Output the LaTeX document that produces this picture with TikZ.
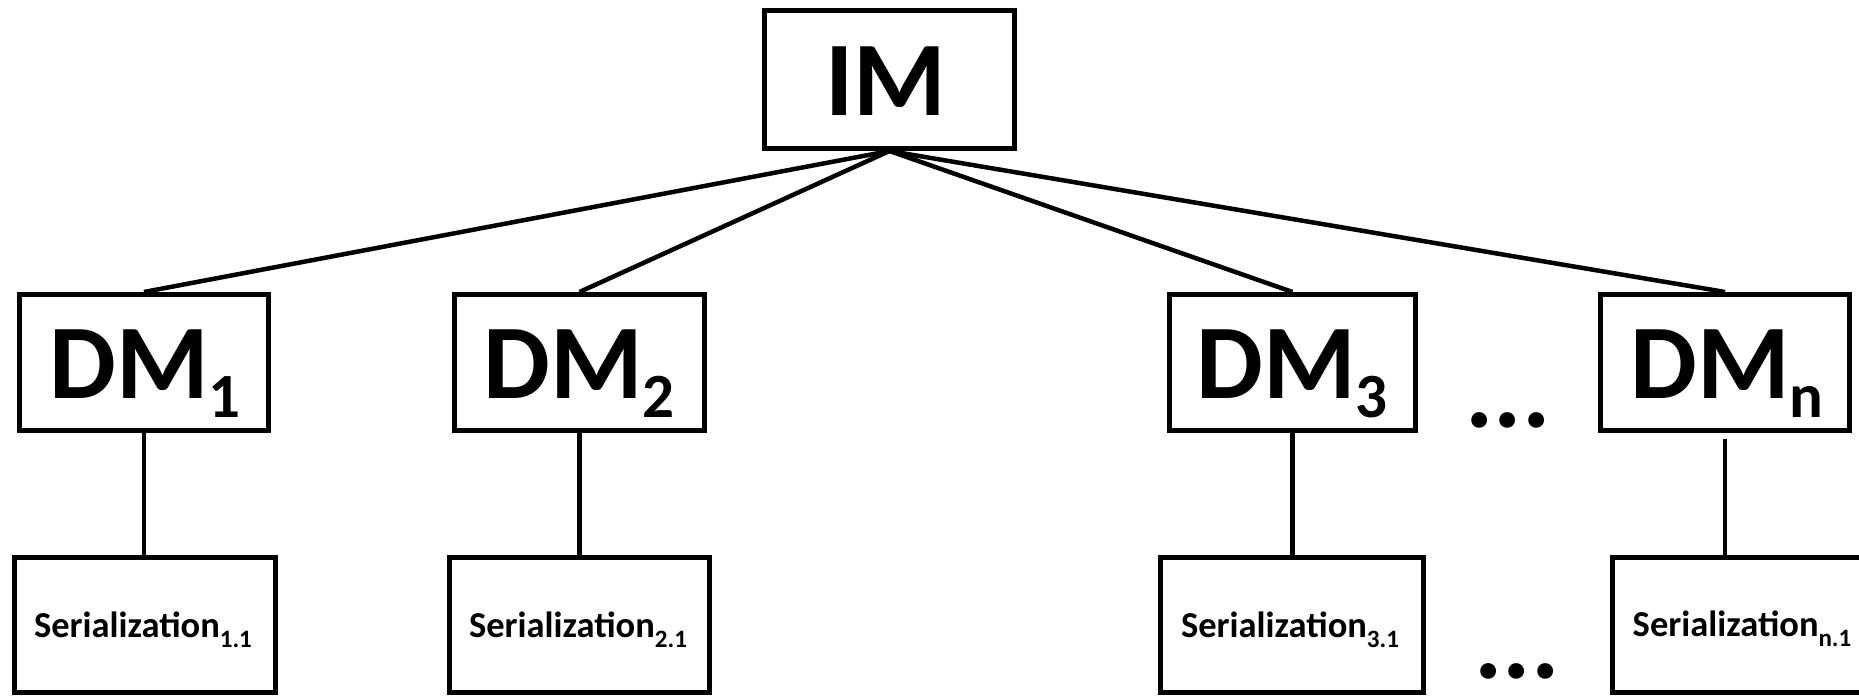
\documentclass[tikz,border=0pt]{standalone}
\usepackage{fontspec}
\setmainfont{Carlito}
\newcommand\bigsub[1]{\raisebox{-19pt}{\fontsize{63}{63}\selectfont #1}}
\newcommand\smallsub[1]{\raisebox{-10pt}{\fontsize{25}{25}\selectfont #1}}
\begin{document}
\begin{tikzpicture}[x=1pt,y=-1pt,
  boxnode/.style={draw, line width=5pt, inner sep=0pt, anchor=center},
  dmbox/.style={boxnode, minimum height=136pt},
  serbox/.style={boxnode, minimum height=135pt},
  bigtext/.style={anchor=base, inner sep=0pt, font=\fontsize{106}{106}\selectfont\bfseries},
  sertext/.style={anchor=base, inner sep=0pt, font=\fontsize{36.5}{36.5}\selectfont\bfseries},
  link/.style={line width=4.5pt}]
\useasboundingbox (0,0) rectangle (1859,696);
\clip (0,0) rectangle (1859,696);
% boxes
\node[boxnode, minimum width=250pt, minimum height=138pt] (IM) at (889.5,79.5) {};
\node[dmbox, minimum width=249pt] (DM1) at (144,362.5) {};
\node[dmbox, minimum width=250pt] (DM2) at (579.5,362.5) {};
\node[dmbox, minimum width=246pt] (DM3) at (1292.5,362.5) {};
\node[dmbox, minimum width=249pt] (DMn) at (1725,362.5) {};
\node[serbox, minimum width=261pt] (S1) at (145,625) {};
\node[serbox, minimum width=260pt] (S2) at (579.5,625) {};
\node[serbox, minimum width=263pt] (S3) at (1292,625) {};
\node[serbox, minimum width=261pt] (Sn) at (1743,625) {};
% texts
\node[bigtext] (tIM) at (886,115) {IM};
\node[bigtext] (tDM1) at (145,398) {DM\bigsub{1}};
\node[bigtext] (tDM2) at (579,398) {DM\bigsub{2}};
\node[bigtext] (tDM3) at (1292,398) {DM\bigsub{3}};
\node[bigtext] (tDMn) at (1727,398) {DM\bigsub{n}};
\node[sertext] (tS1) at (143,637) {Serialization\smallsub{1.1}};
\node[sertext] (tS2) at (578,637) {Serialization\smallsub{2.1}};
\node[sertext] (tS3) at (1290,637) {Serialization\smallsub{3.1}};
\node[sertext] (tSn) at (1742,636) {Serialization\smallsub{n.1}};
\node[bigtext] (dots1) at (1508,427) {...};
\node[bigtext] (dots2) at (1517,678) {...};
% connectors
\draw[link] (IM.south) -- (DM1.north);
\draw[link] (IM.south) -- (DM2.north);
\draw[link] (IM.south) -- (DM3.north);
\draw[link] (IM.south) -- (DMn.north);
\draw[link] (DM1.south) -- (DM1.south |- S1.north);
\draw[link] (DM2.south) -- (DM2.south |- S2.north);
\draw[link] (DM3.south) -- (DM3.south |- S3.north);
\coordinate (nstart) at ([yshift=-6pt]DMn.south);
\draw[link] (nstart) -- (nstart |- Sn.north);
\end{tikzpicture}
\end{document}
